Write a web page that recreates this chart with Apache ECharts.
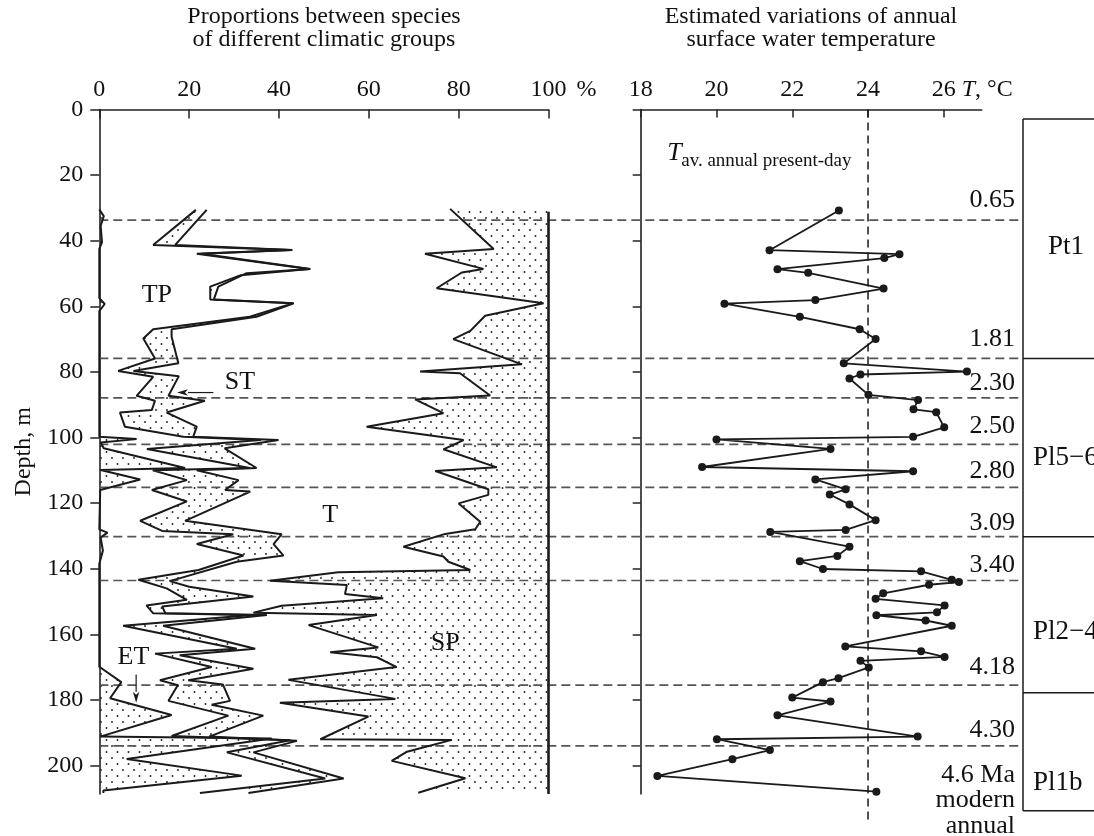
<!DOCTYPE html>
<html>
<head>
<meta charset="utf-8">
<title>Climatic groups and temperature</title>
<script src="https://cdn.jsdelivr.net/npm/echarts@6.0.0/dist/echarts.min.js"></script>
<style>
html,body{margin:0;padding:0;background:#ffffff;}
#chart{width:1094px;height:836px;}
</style>
</head>
<body>
<div id="chart"></div>
<script>
// ================= DATA =================
const pctTicks = [0, 20, 40, 60, 80, 100];
const tempTicks = [18, 20, 22, 24, 26];
const depthTicks = [0, 20, 40, 60, 80, 100, 120, 140, 160, 180, 200];

// Cumulative boundary ET (%)
const etDepth = [30.5, 32.5, 35.5, 40.5, 42.5, 57.5, 59.3, 61.5, 99.8, 100.5, 101.5, 103.3, 109.3, 109.9, 112.8, 116.0, 128.0, 129.0, 130.5, 134.5, 138.5, 169.9, 174.6, 179.5, 184.6, 191.2, 191.8, 198.0, 203.1, 207.6, 208.4];
const etValue = [0, 1.0, 0.3, 0.6, 0, 0, 1.2, 0, 0, 8.3, 0.3, 1.0, 19.1, 0.3, 9.1, 0.2, 0, 1.8, 0.3, 0.8, 0, 0, 4.9, 2.4, 16.1, 0.2, 38.4, 6.1, 31.7, 0.9, 0.9];

// Cumulative boundary ET+TP (%)
const tpDepth = [30.6, 41.3, 42.8, 44.0, 48.6, 50.5, 54.0, 57.9, 59.1, 63.2, 67.0, 69.8, 75.9, 79.7, 81.5, 87.3, 88.8, 91.6, 92.4, 96.7, 99.8, 100.8, 103.5, 109.3, 110.0, 113.0, 116.0, 119.5, 125.4, 128.5, 129.5, 132.5, 136.0, 140.4, 143.4, 146.0, 149.5, 151.2, 153.6, 154.1, 157.4, 164.4, 165.9, 170.0, 174.0, 175.5, 180.3, 184.8, 191.0, 192.3, 196.0, 204.0, 208.4];
const tpValue = [21.5, 12.0, 42.6, 21.7, 46.7, 31.5, 24.7, 24.7, 43.0, 33.5, 12.0, 9.8, 12.4, 4.2, 12.0, 8.3, 12.4, 11.7, 4.6, 5.7, 18.7, 35.8, 10.6, 33.5, 11.9, 19.5, 11.7, 19.5, 9.1, 14.0, 29.8, 21.7, 32.1, 22.1, 8.7, 15.0, 19.5, 10.5, 12.0, 34.0, 5.3, 30.6, 12.4, 25.0, 13.5, 17.5, 15.4, 28.7, 16.1, 42.5, 28.4, 50.3, 22.4];

// Cumulative boundary ET+TP+ST (%)
const stDepth = [30.6, 41.3, 42.8, 44.0, 48.6, 49.9, 54.0, 57.9, 59.1, 63.2, 67.0, 69.3, 77.4, 79.7, 81.3, 87.3, 88.8, 92.4, 96.7, 99.8, 100.8, 103.3, 109.3, 110.0, 113.0, 116.0, 116.5, 125.4, 129.5, 132.5, 136.0, 137.9, 143.8, 145.5, 148.5, 151.5, 153.6, 154.1, 157.4, 164.4, 166.4, 170.5, 174.0, 175.3, 180.3, 181.5, 184.8, 191.2, 192.5, 196.0, 204.0, 208.4];
const stValue = [23.9, 16.9, 43.0, 22.8, 47.0, 32.8, 26.5, 25.5, 43.3, 35.0, 16.1, 16.1, 17.6, 7.6, 17.7, 15.4, 23.5, 15.0, 21.7, 20.9, 39.9, 27.9, 35.0, 21.7, 31.0, 28.0, 33.6, 19.1, 40.6, 38.8, 41.0, 30.6, 15.7, 20.0, 34.3, 14.0, 14.7, 37.3, 14.2, 34.7, 17.9, 34.3, 19.8, 27.5, 29.1, 25.0, 36.5, 24.5, 44.0, 34.3, 54.4, 33.2];

// Cumulative boundary ET+TP+ST+T (%) = left edge of SP
const tDepth = [30.3, 42.5, 44.0, 48.6, 49.7, 54.5, 59.1, 62.9, 67.5, 70.0, 77.7, 79.9, 80.4, 87.2, 88.4, 92.6, 96.7, 100.8, 103.6, 109.1, 110.2, 115.8, 117.5, 120.1, 125.7, 128.0, 129.4, 133.3, 136.3, 137.9, 140.4, 141.1, 143.7, 145.0, 147.7, 149.0, 151.3, 153.4, 154.1, 157.2, 164.0, 165.5, 167.0, 170.0, 173.9, 179.7, 180.9, 185.1, 192.0, 192.2, 195.8, 198.6, 203.9, 208.3];
const tValue = [78.1, 87.8, 72.5, 85.5, 80.7, 75.1, 98.9, 85.9, 82.6, 78.8, 94.1, 71.4, 80.3, 87.0, 70.3, 76.6, 59.5, 81.1, 76.6, 88.5, 74.8, 86.6, 86.6, 80.0, 84.8, 83.7, 77.0, 67.7, 76.6, 77.7, 82.6, 53.2, 38.0, 55.1, 54.7, 63.2, 40.6, 34.3, 61.8, 46.6, 62.1, 51.4, 61.8, 66.2, 42.1, 65.9, 40.2, 59.9, 49.2, 78.5, 68.5, 65.1, 81.5, 71.0];

// Estimated annual surface water temperature (deg C)
const tempDepth = [30.8, 42.9, 44.1, 45.3, 48.7, 49.8, 54.6, 58.1, 59.2, 63.2, 67.0, 70.0, 77.4, 79.9, 80.8, 82.0, 87.0, 88.6, 91.4, 92.3, 96.9, 99.8, 100.6, 103.5, 109.0, 110.3, 112.8, 115.8, 117.4, 120.4, 125.2, 128.2, 128.8, 133.3, 136.1, 137.7, 140.1, 140.8, 143.4, 144.1, 144.9, 147.5, 149.2, 151.2, 153.3, 154.2, 155.8, 157.4, 163.7, 165.2, 166.9, 168.1, 170.1, 173.4, 174.6, 179.3, 180.5, 184.7, 191.2, 192.0, 195.3, 198.1, 203.2, 208.0];
const tempValue = [23.23, 21.40, 24.83, 24.43, 21.61, 22.42, 24.41, 22.61, 20.21, 22.20, 23.78, 24.20, 23.36, 26.61, 23.80, 23.51, 24.01, 25.32, 25.20, 25.80, 26.01, 25.19, 20.00, 23.01, 19.62, 25.19, 22.61, 23.41, 22.99, 23.51, 24.20, 23.41, 21.42, 23.51, 23.19, 22.20, 22.81, 25.40, 26.21, 26.40, 25.61, 24.40, 24.20, 26.02, 25.82, 24.22, 25.52, 26.21, 23.40, 25.40, 26.02, 23.80, 24.02, 23.22, 22.81, 22.00, 23.01, 21.61, 25.31, 20.01, 21.41, 20.42, 18.44, 24.22];
const presentDayTemp = 24;

// Horizons, ages and stratigraphic units (depth, m)
const horizonDepth = [33.7, 75.9, 87.9, 102.1, 115.2, 130.2, 143.6, 175.5, 194.0];
const ageText = ['0.65', '1.81', '2.30', '2.50', '2.80', '3.09', '3.40', '4.18', '4.30', '4.6 Ma', 'modern', 'annual'];
const ageDepth = [27.6, 70.0, 83.5, 96.5, 110.4, 126.0, 138.9, 169.9, 189.2, 203.1, 210.5, 218.6];
const zoneText = ['Pt1', 'Pl5\u22126', 'Pl2\u22124', 'Pl1b'];
const zoneTop = [2.9, 75.9, 130.3, 177.8];
const zoneBottom = 213.8;
const zoneLabelDepth = [41.8, 106.3, 159.2, 205.3];

// Annotations (value %, depth m)
const groupText = ['TP', 'ST', 'T', 'SP', 'ET'];
const groupAt = [[12.8, 56.5], [31.3, 83.0], [51.4, 123.6], [77.0, 162.7], [7.6, 167.0]];
const arrowFrom = [[25.4, 86.3], [8.2, 172.3]];
const arrowTo = [[17.3, 86.3], [8.2, 180.9]];
const tavAt = [18.7, 13.4];

// ================= CHART =================
const F = '"Liberation Serif", "Times New Roman", serif';
const TXT = '#111';
const INK = '#1a1a1a';
const DEPTH_MAX = 208.7;

const zip = (xs, ys) => xs.map((x, i) => [x, ys[i]]);
const etPts = zip(etValue, etDepth);
const tpPts = zip(tpValue, tpDepth);
const stPts = zip(stValue, stDepth);
const tPts = zip(tValue, tDepth);

function dotCanvas() {
  const c = document.createElement('canvas');
  c.width = 11; c.height = 12;
  const g = c.getContext('2d');
  g.fillStyle = '#222';
  [[2, 2], [7.5, 8]].forEach(p => { g.beginPath(); g.arc(p[0], p[1], 0.95, 0, Math.PI * 2); g.fill(); });
  return c;
}
const dots = { image: dotCanvas(), repeat: 'repeat' };

function custom(idx, dummy, build, z) {
  return {
    type: 'custom', xAxisIndex: idx, yAxisIndex: idx, data: [dummy], clip: false, silent: true, z: z || 2,
    renderItem: (params, api) => ({ type: 'group', children: build(api) })
  };
}
function poly(api, pts) {
  return { type: 'polygon', shape: { points: pts.map(p => api.coord(p)) }, style: { fill: dots, stroke: null } };
}
function seg(a, b, style) {
  return { type: 'line', shape: { x1: a[0], y1: a[1], x2: b[0], y2: b[1] }, style: style };
}
function txt(p, text, st) {
  return { type: 'text', x: p[0], y: p[1], style: Object.assign({ text: text, fill: TXT, fontFamily: F }, st) };
}
function boundaryLine(pts, z) {
  return { type: 'line', xAxisIndex: 0, yAxisIndex: 0, data: pts, symbol: 'none', clip: false, silent: true,
    lineStyle: { color: INK, width: 2 }, z: z || 5 };
}

const axisLine = { show: true, onZero: false, lineStyle: { color: '#222', width: 1.6 } };
const labelStyle = { fontSize: 24, fontFamily: F, color: TXT };

const option = {
  animation: false,
  backgroundColor: '#ffffff',
  textStyle: { fontFamily: F },
  grid: [
    { left: 99.3, top: 109.5, width: 449.2, height: 684.5 },
    { left: 640.7, top: 109.5, width: 341, height: 684.5 },
    { left: 99.3, top: 109.5, width: 923.7, height: 684.5 },
    { left: 1023, top: 109.5, width: 120, height: 684.5 }
  ],
  graphic: [
    { type: 'text', x: 324, y: 5, silent: true,
      style: { text: 'Proportions between species\nof different climatic groups', fill: TXT, fontFamily: F, fontSize: 24, lineHeight: 23, align: 'center', verticalAlign: 'top' } },
    { type: 'text', x: 811, y: 5, silent: true,
      style: { text: 'Estimated variations of annual\nsurface water temperature', fill: TXT, fontFamily: F, fontSize: 24, lineHeight: 23, align: 'center', verticalAlign: 'top' } }
  ],
  xAxis: [
    { gridIndex: 0, type: 'value', position: 'top', min: 0, max: 100, interval: 20,
      axisLine: axisLine,
      axisTick: { show: true, inside: true, length: 9, lineStyle: { color: '#222', width: 1.5 } },
      axisLabel: Object.assign({ margin: 8, customValues: pctTicks }, labelStyle),
      splitLine: { show: false },
      name: '%', nameLocation: 'end', nameGap: 28,
      nameTextStyle: Object.assign({ verticalAlign: 'bottom', align: 'left', padding: [0, 0, 8, 0] }, labelStyle) },
    { gridIndex: 1, type: 'value', position: 'top', min: 18, max: 27,
      axisLine: axisLine,
      axisTick: { show: true, inside: true, length: 8, customValues: tempTicks, lineStyle: { color: '#222', width: 1.5 } },
      axisLabel: Object.assign({ margin: 8, customValues: tempTicks }, labelStyle),
      splitLine: { show: false },
      name: '{i|T}, °C', nameLocation: 'end', nameGap: -22,
      nameTextStyle: Object.assign({ verticalAlign: 'bottom', align: 'left', padding: [0, 0, 8, 0],
        rich: { i: { fontStyle: 'italic', fontSize: 24, fontFamily: F, color: TXT } } }, labelStyle) },
    { gridIndex: 2, type: 'value', min: 0, max: 1, show: false },
    { gridIndex: 3, type: 'value', min: 0, max: 1, show: false }
  ],
  yAxis: [
    { gridIndex: 0, type: 'value', inverse: true, min: 0, max: DEPTH_MAX,
      axisLine: axisLine,
      axisTick: { show: true, length: 9, customValues: depthTicks, lineStyle: { color: '#222', width: 1.5 } },
      axisLabel: Object.assign({ margin: 16, customValues: depthTicks }, labelStyle),
      splitLine: { show: false },
      name: 'Depth, m', nameLocation: 'middle', nameGap: 64,
      nameTextStyle: labelStyle },
    { gridIndex: 1, type: 'value', inverse: true, min: 0, max: DEPTH_MAX,
      axisLine: axisLine,
      axisTick: { show: true, length: 8, customValues: depthTicks, lineStyle: { color: '#222', width: 1.5 } },
      axisLabel: { show: false },
      splitLine: { show: false } },
    { gridIndex: 2, type: 'value', inverse: true, min: 0, max: DEPTH_MAX, show: false },
    { gridIndex: 3, type: 'value', inverse: true, min: 0, max: DEPTH_MAX, show: false }
  ],
  series: [
    // dotted fills
    custom(0, [50, 100], api => [
      poly(api, tPts.concat([[100, tDepth[tDepth.length - 1]], [100, tDepth[0]]])),
      poly(api, tpPts.concat(stPts.slice().reverse())),
      poly(api, etPts.concat([[0, etDepth[etDepth.length - 1]], [0, etDepth[0]]]))
    ], 1),
    // boundary lines
    boundaryLine(etPts), boundaryLine(tpPts), boundaryLine(stPts), boundaryLine(tPts),
    { type: 'line', xAxisIndex: 0, yAxisIndex: 0, data: [[100, tDepth[0] + 0.9], [100, DEPTH_MAX]], symbol: 'none',
      clip: false, silent: true, lineStyle: { color: INK, width: 2.6 }, z: 5 },
    // group labels and arrows
    custom(0, [50, 100], api => {
      const out = groupText.map((t, i) => txt(api.coord(groupAt[i]), t, { fontSize: 26, align: 'center', verticalAlign: 'middle' }));
      arrowFrom.forEach((f, i) => {
        const a = api.coord(f), b = api.coord(arrowTo[i]);
        const dx = b[0] - a[0], dy = b[1] - a[1], L = Math.hypot(dx, dy), ux = dx / L, uy = dy / L;
        const hl = 11, hw = 3.2;
        const base = [b[0] - ux * hl, b[1] - uy * hl];
        out.push(seg(a, base, { stroke: INK, lineWidth: 1.2 }));
        out.push({ type: 'polygon', shape: { points: [b, [base[0] - uy * hw, base[1] + ux * hw], [b[0] - ux * (hl - 3), b[1] - uy * (hl - 3)], [base[0] + uy * hw, base[1] - ux * hw]] },
          style: { fill: INK } });
      });
      return out;
    }, 6),
    // temperature
    { type: 'line', xAxisIndex: 1, yAxisIndex: 1, data: zip(tempValue, tempDepth), symbol: 'circle', symbolSize: 8,
      clip: false, silent: true, itemStyle: { color: INK }, lineStyle: { color: INK, width: 1.8 }, z: 6 },
    // present-day reference line and label
    custom(1, [20, 100], api => {
      const a = api.coord([presentDayTemp, 0]), b = api.coord([presentDayTemp, 217]);
      const p = api.coord(tavAt);
      return [
        seg(a, b, { stroke: INK, lineWidth: 1.5, lineDash: [8, 5] }),
        txt(p, 'T', { fontSize: 26, fontStyle: 'italic', align: 'left', verticalAlign: 'middle' }),
        txt([p[0] + 14, p[1] + 8], 'av. annual present-day', { fontSize: 19, align: 'left', verticalAlign: 'middle' })
      ];
    }, 3),
    // horizon dashed lines
    custom(2, [0.5, 100], api => horizonDepth.map(d =>
      seg(api.coord([0, d]), api.coord([1, d]), { stroke: '#555', lineWidth: 1.7, lineDash: [9, 5] })), 4),
    // stratigraphic column with ages
    custom(3, [0.5, 100], api => {
      const st = { stroke: INK, lineWidth: 1.5 };
      const out = [];
      const top = api.coord([0, zoneTop[0]]), bot = api.coord([0, zoneBottom]);
      out.push(seg(top, bot, st));
      zoneTop.forEach(d => out.push(seg(api.coord([0, d]), api.coord([1, d]), st)));
      out.push(seg(bot, api.coord([1, zoneBottom]), st));
      zoneText.forEach((t, i) => {
        const p = api.coord([0, zoneLabelDepth[i]]);
        out.push(txt([p[0] + (i === 0 ? 25 : 10), p[1]], t, { fontSize: 27, align: 'left', verticalAlign: 'middle' }));
      });
      ageText.forEach((t, i) => {
        const p = api.coord([0, ageDepth[i]]);
        out.push(txt([p[0] - 8, p[1]], t, { fontSize: 26, align: 'right', verticalAlign: 'middle' }));
      });
      return out;
    }, 4)
  ]
};

const chart = echarts.init(document.getElementById('chart'), null, { renderer: 'canvas' });
chart.setOption(option);
</script>
</body>
</html>
